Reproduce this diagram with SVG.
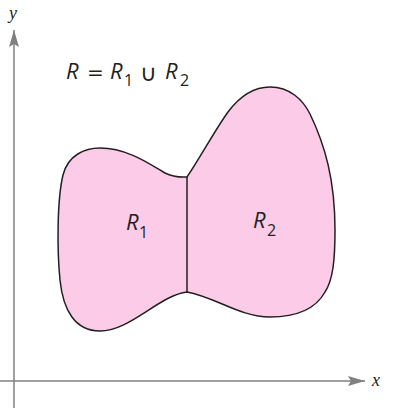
<svg xmlns="http://www.w3.org/2000/svg" width="402" height="414" viewBox="0 0 402 414">
<style>
.ax{stroke:#808080;stroke-width:1.5;fill:none}
.lbl{font-family:"Liberation Serif",serif;font-style:italic;font-size:18px;fill:#231f20}
.m{font-family:"Open Sans","Liberation Sans",sans-serif;font-style:italic;font-size:22px;fill:#231f20}
.o{font-family:"DejaVu Sans",sans-serif;font-size:20px;fill:#231f20}
.s{font-family:"Open Sans","Liberation Sans",sans-serif;font-size:16px;fill:#231f20}
.reg{fill:#fccbe8;stroke:#231f20;stroke-width:1.5}
</style>
<defs>
<marker id="ah" markerWidth="18" markerHeight="10" refX="17" refY="5" orient="auto" markerUnits="userSpaceOnUse">
<path d="M0,0 L17,5 L0,10 L3,5 Z" fill="#808080"/>
</marker>
</defs>
<g id="axes">
<line class="ax" x1="14" y1="408" x2="14" y2="30" marker-end="url(#ah)"/>
<line class="ax" x1="0" y1="381" x2="365" y2="381" marker-end="url(#ah)"/>
<text class="lbl" x="9" y="19">y</text>
<text class="lbl" x="372" y="386">x</text>
</g>
<g id="region">
<path class="reg" d="M187,177 C200,158 215,130 228,112 C240,96 255,87 270,87 C290,87 303,100 310,114 C325,145 335,180 335,230 C335,260 333,280 325,292 C315,310 295,317 270,317 C240,317 215,297 187,292 C160,295 130,331 100,331 C75,331 63,310 60,280 C57,250 57,200 63,175 C68,155 85,148 100,148 C130,148 155,168 165,173 C175,178 182,177 187,177 Z"/>
<line x1="187" y1="177" x2="187" y2="292" stroke="#231f20" stroke-width="1.5"/>
</g>
<g id="title">
<text class="m" x="66" y="79">R</text>
<text class="o" x="87" y="79">=</text>
<text class="m" x="110" y="79">R</text>
<text class="s" x="124" y="86">1</text>
<text class="o" x="140" y="81" style="font-size:23px;font-weight:200">∪</text>
<text class="m" x="165" y="79">R</text>
<text class="s" x="180" y="86">2</text>
</g>
<g id="r1"><text class="m" x="126" y="230">R</text><text class="s" x="139" y="238">1</text></g>
<g id="r2"><text class="m" x="253" y="228">R</text><text class="s" x="267" y="236">2</text></g>
</svg>
